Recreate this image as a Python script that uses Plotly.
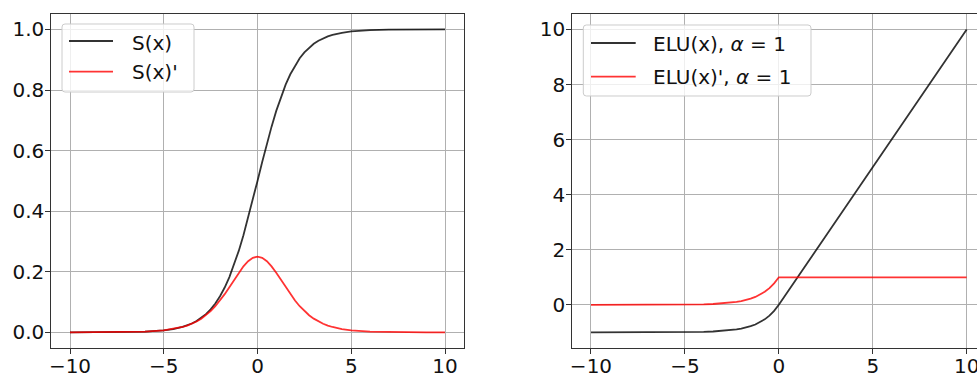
import plotly.graph_objects as go

# ---------------- data ----------------
sig_x = [-10, -9, -8, -7, -6, -5, -4.5,
         -4, -3.75, -3.5, -3.25, -3, -2.75, -2.5, -2.25, -2, -1.75, -1.5, -1.25, -1, -0.75, -0.5, -0.25,
         0, 0.25, 0.5, 0.75, 1, 1.25, 1.5, 1.75, 2, 2.25, 2.5, 2.75, 3, 3.25, 3.5, 3.75, 4,
         4.5, 5, 6, 7, 8, 9, 10]
sig_y = [0.0000, 0.0001, 0.0003, 0.0009, 0.0025, 0.0067, 0.0110,
         0.0180, 0.0230, 0.0293, 0.0373, 0.0474, 0.0601, 0.0759, 0.0953, 0.1192, 0.1480, 0.1824, 0.2227, 0.2689, 0.3208, 0.3775, 0.4378,
         0.5000, 0.5622, 0.6225, 0.6792, 0.7311, 0.7773, 0.8176, 0.8520, 0.8808, 0.9047, 0.9241, 0.9399, 0.9526, 0.9627, 0.9707, 0.9770, 0.9820,
         0.9890, 0.9933, 0.9975, 0.9991, 0.9997, 0.9999, 1.0000]
sig_dy = [0.0000, 0.0001, 0.0003, 0.0009, 0.0025, 0.0066, 0.0109,
          0.0177, 0.0225, 0.0285, 0.0359, 0.0452, 0.0565, 0.0701, 0.0862, 0.1050, 0.1261, 0.1491, 0.1731, 0.1966, 0.2179, 0.2350, 0.2461,
          0.2500, 0.2461, 0.2350, 0.2179, 0.1966, 0.1731, 0.1491, 0.1261, 0.1050, 0.0862, 0.0701, 0.0565, 0.0452, 0.0359, 0.0285, 0.0225, 0.0177,
          0.0109, 0.0066, 0.0025, 0.0009, 0.0003, 0.0001, 0.0000]

elu_x = [-10, -9, -8, -7, -6, -5, -4.5, -4, -3.5, -3, -2.75, -2.5, -2.25, -2,
         -1.75, -1.5, -1.25, -1, -0.75, -0.5, -0.25, 0, 10]
elu_y = [-1.0000, -0.9999, -0.9997, -0.9991, -0.9975, -0.9933, -0.9889, -0.9817, -0.9698, -0.9502, -0.9361, -0.9179, -0.8946, -0.8647,
         -0.8262, -0.7769, -0.7135, -0.6321, -0.5276, -0.3935, -0.2212, 0.0, 10.0]
elu_dy = [0.0000, 0.0001, 0.0003, 0.0009, 0.0025, 0.0067, 0.0111, 0.0183, 0.0302, 0.0498, 0.0639, 0.0821, 0.1054, 0.1353,
          0.1738, 0.2231, 0.2865, 0.3679, 0.4724, 0.6065, 0.7788, 1.0, 1.0]

x_ticks = [-10, -5, 0, 5, 10]
sig_ticks = [0.0, 0.2, 0.4, 0.6, 0.8, 1.0]
elu_ticks = [0, 2, 4, 6, 8, 10]

labels_left = ["S(x)", "S(x)'"]
labels_right = ["ELU(x), <i>α</i> = 1", "ELU(x)', <i>α</i> = 1"]

# ---------------- style ----------------
W, H = 977, 374
FONT = "DejaVu Sans"
FS = 20
BLACK = "rgba(0,0,0,0.8)"
RED = "rgba(255,0,0,0.8)"
GRID = "#b0b0b0"
SPINE = "#333333"


def px(x):
    return x / W


def py(y):
    return 1 - y / H


fig = go.Figure()
fig.add_trace(go.Scatter(x=sig_x, y=sig_y, mode="lines", line=dict(color=BLACK, width=1.8), xaxis="x", yaxis="y"))
fig.add_trace(go.Scatter(x=sig_x, y=sig_dy, mode="lines", line=dict(color=RED, width=1.8), xaxis="x", yaxis="y"))
fig.add_trace(go.Scatter(x=elu_x, y=elu_y, mode="lines", line=dict(color=BLACK, width=1.8), xaxis="x2", yaxis="y2"))
fig.add_trace(go.Scatter(x=elu_x, y=elu_dy, mode="lines", line=dict(color=RED, width=1.8), xaxis="x2", yaxis="y2"))

axis_common = dict(
    showgrid=True, gridcolor=GRID, gridwidth=0.8, zeroline=False,
    showline=True, linecolor=SPINE, linewidth=1,
    ticks="outside", ticklen=5, tickwidth=1, tickcolor=SPINE,
    ticklabeloverflow="allow", automargin=False,
    tickfont=dict(family=FONT, size=FS, color="#111111"),
)
x_axis = dict(axis_common, ticklabelstandoff=-5)
y_axis = dict(axis_common, ticklabelstandoff=-3)

ydom = [py(347.5), py(14.3)]
fig.update_layout(
    width=W, height=H,
    margin=dict(l=0, r=0, t=0, b=0, pad=0),
    paper_bgcolor="white", plot_bgcolor="white",
    showlegend=False,
    xaxis=dict(domain=[px(51.25), px(463.75)], range=[-11, 11], tickvals=x_ticks, mirror=True, anchor="y", **x_axis),
    yaxis=dict(domain=ydom, range=[-0.05, 1.05], tickvals=sig_ticks, tickformat=".1f", mirror=True, anchor="x", **y_axis),
    xaxis2=dict(domain=[px(572.2), 1.0], range=[-11, 10.55], tickvals=x_ticks, mirror=True, anchor="y2", **x_axis),
    yaxis2=dict(domain=ydom, range=[-1.55, 10.55], tickvals=elu_ticks, mirror=False, anchor="x2", **y_axis),
)


def rounded_rect(x0, y0, x1, y1, r=3):
    def P(x, y):
        return f"{px(x):.5f},{py(y):.5f}"
    return (f"M {P(x0 + r, y0)} L {P(x1 - r, y0)} Q {P(x1, y0)} {P(x1, y0 + r)} "
            f"L {P(x1, y1 - r)} Q {P(x1, y1)} {P(x1 - r, y1)} "
            f"L {P(x0 + r, y1)} Q {P(x0, y1)} {P(x0, y1 - r)} "
            f"L {P(x0, y0 + r)} Q {P(x0, y0)} {P(x0 + r, y0)} Z")


def add_legend(box, line_x, text_x, rows, labels):
    x0, y0, x1, y1 = box
    fig.add_shape(type="path", path=rounded_rect(x0, y0, x1, y1), xref="paper", yref="paper",
                  fillcolor="rgba(255,255,255,0.8)", line=dict(color="#cccccc", width=1), layer="above")
    for (ly, ty), lab, col in zip(rows, labels, [BLACK, RED]):
        fig.add_shape(type="line", xref="paper", yref="paper",
                      x0=px(line_x[0]), x1=px(line_x[1]), y0=py(ly), y1=py(ly),
                      line=dict(color=col, width=1.8), layer="above")
        fig.add_annotation(xref="paper", yref="paper", x=px(text_x), y=py(ty), text=lab,
                           showarrow=False, xanchor="left", yanchor="middle",
                           font=dict(family=FONT, size=FS, color="#111111"))


add_legend((62, 24, 194, 92), (69, 113), 130, [(41, 43), (71.7, 72)], labels_left)
add_legend((583.3, 25, 811, 96), (591, 635.7), 651, [(43, 44), (76.7, 77)], labels_right)

fig.write_html("out.html")
